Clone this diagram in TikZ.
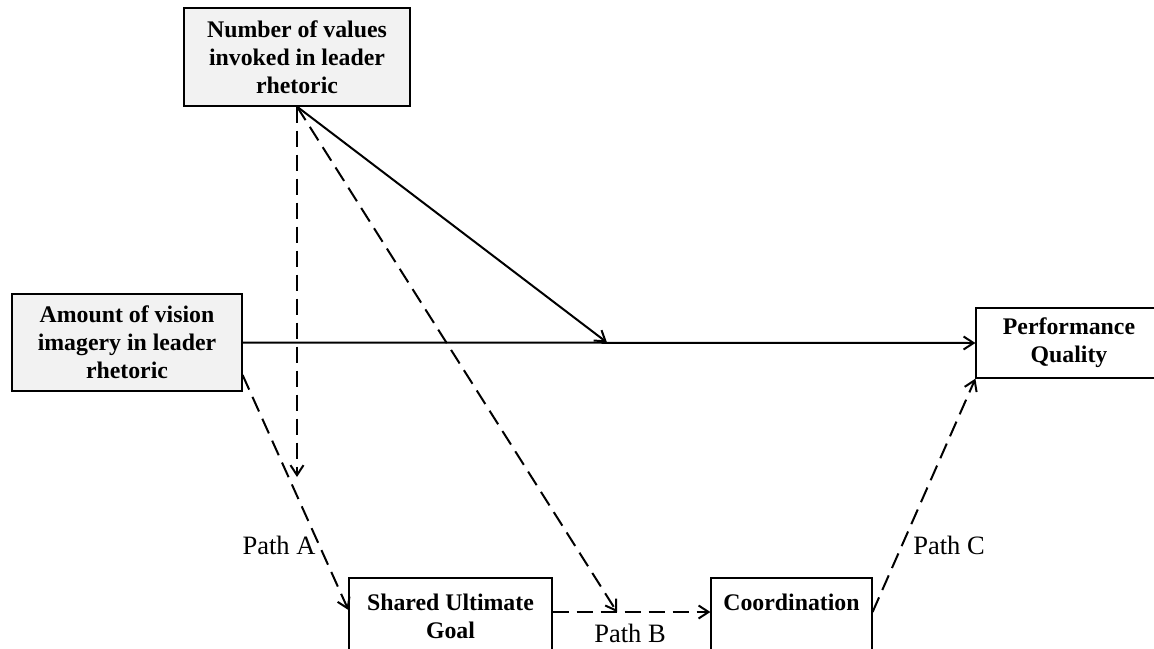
\documentclass[tikz,border=0pt]{standalone}
\usepackage{fontspec}
\setmainfont{Liberation Serif}
\usetikzlibrary{arrows.meta}
\definecolor{boxgray}{RGB}{242,242,242}
\tikzset{
	varbox/.style={draw, line width=1.2pt, align=center, inner sep=0pt, font=\bfseries\fontsize{23.8}{28}\selectfont},
	shadedbox/.style={varbox, fill=boxgray},
	pathlabel/.style={inner sep=0pt, font=\fontsize{26.5}{30}\selectfont},
	link/.style={line width=2pt, -{Straight Barb[length=10pt,width=13pt,line width=2pt]}},
	dashlink/.style={link, dash pattern=on 16pt off 8pt}
}

\begin{document}
\begin{tikzpicture}[x=1pt, y=-1pt]
			%%%%% START %%%%%
			\useasboundingbox (0, 0) rectangle (1154, 648);
			
			\node[shadedbox, minimum width=226pt, minimum height=98pt] (values) at (297, 57) {Number of values\\invoked in leader\\rhetoric};
			\node[shadedbox, minimum width=230pt, minimum height=97pt] (vision) at (127, 342.5) {Amount of vision\\imagery in leader\\rhetoric};
			\node[varbox, minimum width=186pt, minimum height=70pt] (quality) at (1069, 343) {Performance\\Quality};
			\node[varbox, minimum width=203pt, minimum height=76pt] (goal) at (450.5, 616) {Shared Ultimate\\Goal};
			\node[varbox, minimum width=161pt, minimum height=76pt] (coord) at (791.5, 616) {Coordination\\~};
			
			\coordinate (onmain) at (607, 342.5);
			\coordinate (ongoal) at (297, 477);
			\coordinate (onpathb) at (617, 612);
			
			\draw[link] (vision.east) -- (quality.west);
			\draw[link] (values.south) -- (onmain);
			\draw[dashlink] (values.south) -- (ongoal);
			\draw[dashlink] (values.south) -- (onpathb);
			
			\draw[dashlink] ([yshift=-32.5pt]vision.east) -- ([yshift=6pt]goal.west);
			\draw[dashlink] ([yshift=4pt]goal.east) -- ([yshift=4pt]coord.west);
			\draw[dashlink] ([yshift=4pt]coord.east) -- (quality.south west);
			
			\node[pathlabel] (patha) at (279, 545) {Path A};
			\node[pathlabel] (pathb) at (630, 633) {Path B};
			\node[pathlabel] (pathc) at (949, 545) {Path C};
			%%%%% END %%%%%
\end{tikzpicture}
\end{document}
